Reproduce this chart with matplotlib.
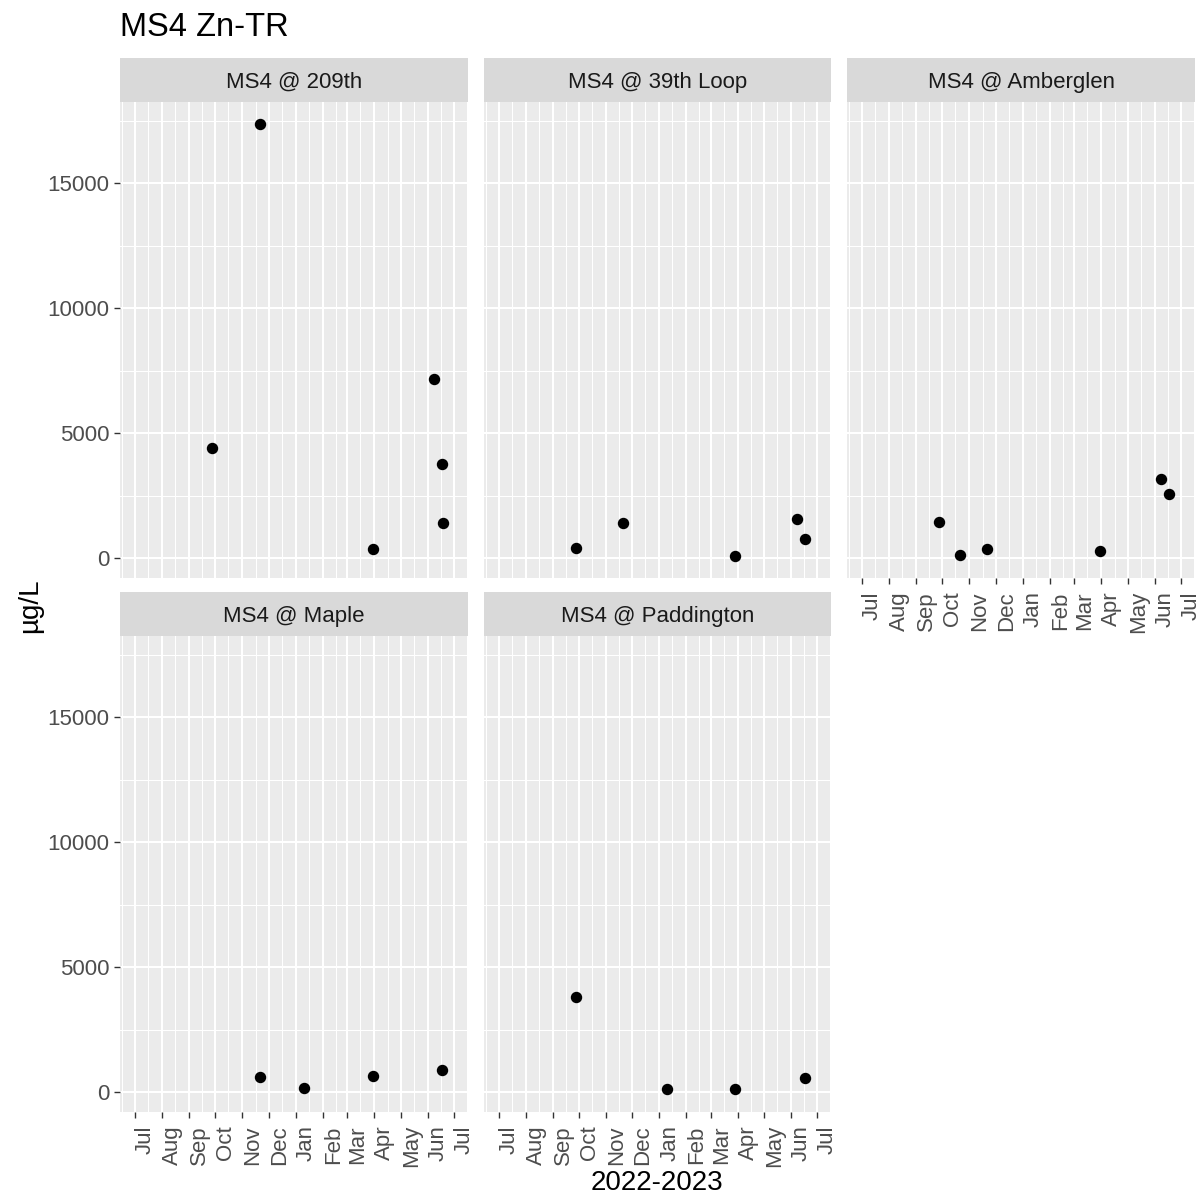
import numpy as np
import matplotlib
matplotlib.use("Agg")
import matplotlib.pyplot as plt
import matplotlib.dates as mdates
import pandas as pd

plt.rcParams['font.family'] = ['Liberation Sans', 'DejaVu Sans']

# datos (ug/L)
sitios = ["MS4 @ 209th", "MS4 @ 39th Loop", "MS4 @ Amberglen", "MS4 @ Maple", "MS4 @ Paddington"]

fechas_209th = ["2022-09-27", "2022-11-21", "2023-03-30", "2023-06-08", "2023-06-17", "2023-06-18"]
valores_209th = [4400, 17350, 360, 7150, 3750, 1400]

fechas_39th = ["2022-09-27", "2022-11-21", "2023-03-29", "2023-06-08", "2023-06-17"]
valores_39th = [400, 1400, 80, 1550, 750]

fechas_amberglen = ["2022-09-27", "2022-10-21", "2022-11-21", "2023-03-30", "2023-06-08", "2023-06-17"]
valores_amberglen = [1440, 120, 360, 300, 3150, 2550]

fechas_maple = ["2022-11-21", "2023-01-10", "2023-03-30", "2023-06-17"]
valores_maple = [600, 160, 640, 880]

fechas_paddington = ["2022-09-27", "2023-01-10", "2023-03-29", "2023-06-17"]
valores_paddington = [3800, 120, 120, 560]

datos = [
    (fechas_209th, valores_209th),
    (fechas_39th, valores_39th),
    (fechas_amberglen, valores_amberglen),
    (fechas_maple, valores_maple),
    (fechas_paddington, valores_paddington),
]

W, H = 1201, 1197
fig = plt.figure(figsize=(W / 100, H / 100), dpi=100)
fig.patch.set_facecolor("white")

columnas = [(120, 468), (484, 831), (847, 1195)]
filas = [(58, 102, 578), (592, 636, 1112)]  # tope tira, tope panel, fondo panel

x_min = pd.Timestamp("2022-07-01") - pd.Timedelta(days=17)
x_max = pd.Timestamp("2023-07-01") + pd.Timedelta(days=16)
y_min, y_max = -800, 18240


def caja(x0, x1, y0, y1):
    return [x0 / W, 1 - y1 / H, (x1 - x0) / W, (y1 - y0) / H]


for i, (sitio, (fechas, valores)) in enumerate(zip(sitios, datos)):
    fila, col = i // 3, i % 3
    x0, x1 = columnas[col]
    ts, tp, bp = filas[fila]

    # tira con el nombre del sitio
    tira = fig.add_axes(caja(x0, x1, ts, tp))
    tira.set_facecolor("#D9D9D9")
    tira.set_xticks([])
    tira.set_yticks([])
    for s in tira.spines.values():
        s.set_visible(False)
    tira.text(0.5, 0.44, sitio, ha="center", va="center", fontsize=16, color="#1A1A1A",
              transform=tira.transAxes)

    ax = fig.add_axes(caja(x0, x1, tp, bp))
    ax.set_facecolor("#EBEBEB")
    for s in ax.spines.values():
        s.set_visible(False)

    ax.plot(pd.to_datetime(fechas), valores, 'o', color='black', markersize=7.2, zorder=3)

    ax.set_xlim(x_min, x_max)
    ax.set_ylim(y_min, y_max)

    ax.xaxis.set_major_locator(mdates.MonthLocator())
    ax.xaxis.set_minor_locator(mdates.MonthLocator(bymonthday=16))
    ax.xaxis.set_major_formatter(mdates.DateFormatter('%b'))
    ax.set_yticks([0, 5000, 10000, 15000])
    ax.set_yticks([2500, 7500, 12500, 17500], minor=True)

    ax.grid(which='major', color='white', linewidth=1.5)
    ax.grid(which='minor', color='white', linewidth=0.75)
    ax.set_axisbelow(True)

    ax.tick_params(which='minor', length=0)
    ax.tick_params(which='major', length=4.5, width=1.0, color='#333333',
                   labelsize=16, labelcolor='#4D4D4D')
    ax.tick_params(axis='y', pad=3)
    ax.tick_params(axis='x', pad=5)

    abajo = fila == 1 or col == 2
    if abajo:
        for lab in ax.get_xticklabels():
            lab.set_rotation(90)
            lab.set_ha('left')
            lab.set_va('top')
    else:
        ax.tick_params(axis='x', which='both', bottom=False, labelbottom=False)

    if col != 0:
        ax.tick_params(axis='y', which='both', left=False, labelleft=False)

fig.text(120 / W, 1 - 28 / H, "MS4 Zn-TR", ha="left", va="center", fontsize=23.5, color="black")
fig.text(657 / W, 1 - 1183 / H, "2022-2023", ha="center", va="center", fontsize=20, color="black")
fig.text(30 / W, 1 - 606 / H, "µg/L", ha="center", va="center", rotation=90, fontsize=20, color="black")

fig.savefig("out.png", dpi=100)
